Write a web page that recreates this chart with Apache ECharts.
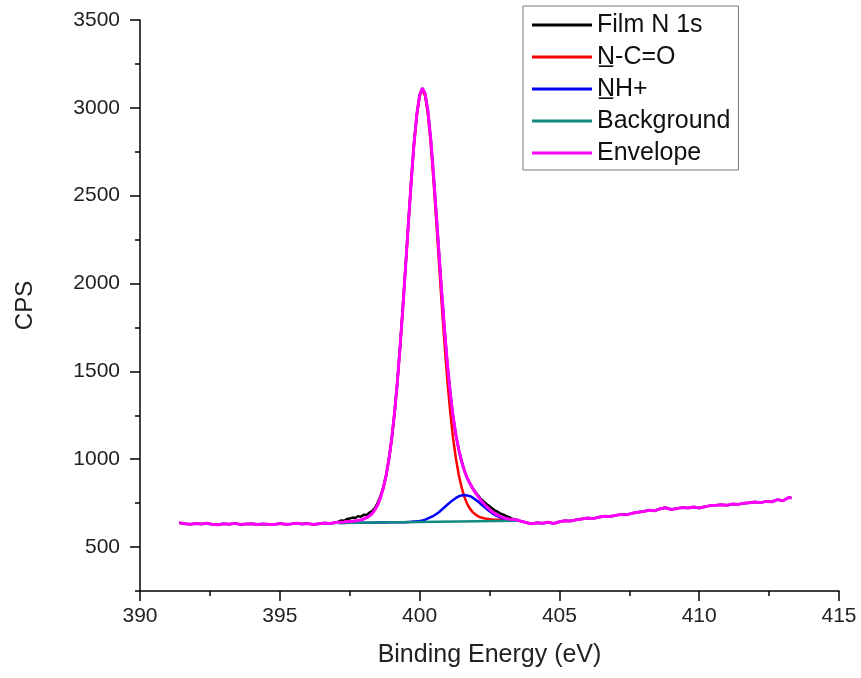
<!DOCTYPE html>
<html>
<head>
<meta charset="utf-8">
<script src="https://cdn.jsdelivr.net/npm/echarts@6/dist/echarts.min.js"></script>
<style>html,body{margin:0;padding:0;background:#fff}#c{width:861px;height:678px}</style>
</head>
<body>
<div id="c"></div>
<script>
// ---- data ----
const xTicks = [390, 395, 400, 405, 410, 415];
const yTicks = [500, 1000, 1500, 2000, 2500, 3000, 3500];
const yMinorTicks = [250, 750, 1250, 1750, 2250, 2750, 3250];

const seriesNames = ['Film N 1s', 'N\u0332-C=O', 'N\u0332H+', 'Background', 'Envelope'];

// raw spectrum outside the fitted window (shared by data and envelope)
const leftE = [391.4,391.6,391.8,392.0,392.2,392.4,392.6,392.8,393.0,393.2,393.4,393.6,393.8,394.0,394.2,394.4,394.6,394.8,395.0,395.2,395.4,395.6,395.8,396.0,396.2,396.4,396.6,396.8,397.0];
const leftCPS = [638,633,630,634,631,636,629,627,633,630,635,628,631,633,628,632,630,629,634,630,632,636,631,634,629,633,637,634,640];
const rightE = [403.6,403.8,404.0,404.2,404.4,404.6,404.8,405.0,405.2,405.4,405.6,405.8,406.0,406.2,406.4,406.6,406.8,407.0,407.2,407.4,407.6,407.8,408.0,408.2,408.4,408.6,408.8,409.0,409.2,409.4,409.6,409.8,410.0,410.2,410.4,410.6,410.8,411.0,411.2,411.4,411.6,411.8,412.0,412.2,412.4,412.6,412.8,413.0,413.2,413.3];
const rightCPS = [648,640,632,638,636,641,634,644,650,648,655,660,665,662,670,676,674,680,686,684,692,698,702,710,706,718,724,714,719,725,722,728,722,730,736,738,741,738,745,743,750,752,756,753,760,758,770,764,782,779];

// fitted window
const fitE = [397.1,397.2,397.3,397.4,397.5,397.6,397.7,397.8,397.9,398.0,398.1,398.2,398.3,398.4,398.5,398.6,398.7,398.8,398.9,399.0,399.1,399.2,399.3,399.4,399.5,399.6,399.7,399.8,399.9,400.0,400.1,400.2,400.3,400.4,400.5,400.6,400.7,400.8,400.9,401.0,401.1,401.2,401.3,401.4,401.5,401.6,401.7,401.8,401.9,402.0,402.1,402.2,402.3,402.4,402.5,402.6,402.7,402.8,402.9,403.0,403.1,403.2,403.3,403.4,403.5];
const filmCPS = [645,652,650,660,662,668,665,676,672,684,682,695,705,722,752,790,840,906,998,1113,1258,1431,1636,1860,2101,2345,2582,2796,2962,3072,3112,3079,2978,2820,2616,2390,2159,1932,1722,1532,1373,1240,1137,1055,989,936,894,862,835,812,792,772,758,744,732,720,708,700,690,685,676,670,662,658,652];
const ncoCPS = [642,642,643,645,646,647,649,651,655,660,667,677,691,712,740,780,835,906,998,1113,1258,1431,1636,1860,2101,2344,2580,2793,2958,3066,3103,3066,2959,2794,2582,2346,2103,1863,1639,1435,1262,1117,1003,912,841,786,746,719,699,685,675,668,664,661,659,657,656,656,655,654,654,653,654,653,653];
const nhCPS = [637,637,637,638,638,638,638,638,639,639,639,639,639,640,640,640,640,640,641,641,641,641,642,642,642,643,644,646,647,649,652,656,663,670,678,688,700,714,728,742,756,768,780,789,794,796,794,790,781,770,758,744,731,717,704,692,682,675,668,662,658,655,654,653,652];
const envCPS = [642,642,643,645,646,647,649,651,655,660,667,677,691,712,740,780,835,906,998,1113,1258,1431,1636,1860,2101,2345,2582,2796,2962,3072,3112,3079,2978,2820,2616,2390,2159,1932,1722,1532,1373,1240,1137,1055,989,936,894,862,833,808,786,765,747,730,715,701,690,682,674,667,663,659,658,656,655];
const bgE = [397.1, 403.5];
const bgCPS = [637, 650];

// ---- build ----
function pairs(xs, ys) { return xs.map((x, i) => [x, ys[i]]); }
const filmData = pairs(leftE, leftCPS).concat(pairs(fitE, filmCPS), pairs(rightE, rightCPS));
const envData = pairs(leftE, leftCPS).concat(pairs(fitE, envCPS), pairs(rightE, rightCPS));

const FONT = "'Liberation Sans', Arial, sans-serif";
const colors = ['#000000', '#ff0000', '#0000ff', '#138a80', '#ff00ff'];
const plain = v => String(v);

function lineSeries(name, data, color, width) {
  return {
    name: name, type: 'line', data: data, showSymbol: false, symbol: 'none',
    lineStyle: { color: color, width: width }, itemStyle: { color: color },
    animation: false, z: 2
  };
}

const chart = echarts.init(document.getElementById('c'), null, { renderer: 'canvas' });
chart.setOption({
  animation: false,
  backgroundColor: '#ffffff',
  grid: { left: 140, right: 22, top: 20, bottom: 87, containLabel: false },
  legend: {
    orient: 'vertical', left: 523, top: 6,
    padding: [6, 8, 4, 9],
    borderColor: '#7a7a7a', borderWidth: 1,
    itemWidth: 60, itemHeight: 3, itemGap: 6,
    icon: 'rect',
    textStyle: { fontFamily: FONT, fontSize: 25, color: '#111', lineHeight: 26 },
    data: seriesNames
  },
  xAxis: {
    type: 'value', min: 390, max: 415, interval: 5,
    axisLine: { show: true, onZero: false, lineStyle: { color: '#000', width: 1.5 } },
    axisTick: { show: true, inside: false, length: 10, lineStyle: { color: '#000', width: 1.5 } },
    minorTick: { show: true, splitNumber: 2, length: 5, lineStyle: { color: '#000', width: 1.5 } },
    axisLabel: { fontFamily: FONT, fontSize: 21, color: '#222', margin: 15,
      customValues: xTicks, formatter: plain },
    splitLine: { show: false },
    name: 'Binding Energy (eV)', nameLocation: 'middle', nameGap: 52,
    nameTextStyle: { fontFamily: FONT, fontSize: 25, color: '#222' }
  },
  yAxis: [{
    type: 'value', min: 250, max: 3500, position: 'left',
    axisLine: { show: true, onZero: false, lineStyle: { color: '#000', width: 1.5 } },
    axisTick: { show: true, inside: false, length: 10, customValues: yTicks, lineStyle: { color: '#000', width: 1.5 } },
    axisLabel: { fontFamily: FONT, fontSize: 21, color: '#222', margin: 20, customValues: yTicks, formatter: plain },
    splitLine: { show: false },
    name: 'CPS', nameLocation: 'middle', nameGap: 103, nameRotate: 90,
    nameTextStyle: { fontFamily: FONT, fontSize: 24, color: '#222' }
  }, {
    type: 'value', min: 250, max: 3500, position: 'left',
    axisLine: { show: false },
    axisTick: { show: true, inside: false, length: 5, customValues: yMinorTicks, lineStyle: { color: '#000', width: 1.5 } },
    axisLabel: { show: false },
    splitLine: { show: false }
  }],
  series: [
    lineSeries(seriesNames[0], filmData, colors[0], 2.5),
    lineSeries(seriesNames[1], pairs(fitE, ncoCPS), colors[1], 2.5),
    lineSeries(seriesNames[2], pairs(fitE, nhCPS), colors[2], 2.5),
    lineSeries(seriesNames[3], pairs(bgE, bgCPS), colors[3], 2.5),
    lineSeries(seriesNames[4], envData, colors[4], 3)
  ]
});
</script>
</body>
</html>
